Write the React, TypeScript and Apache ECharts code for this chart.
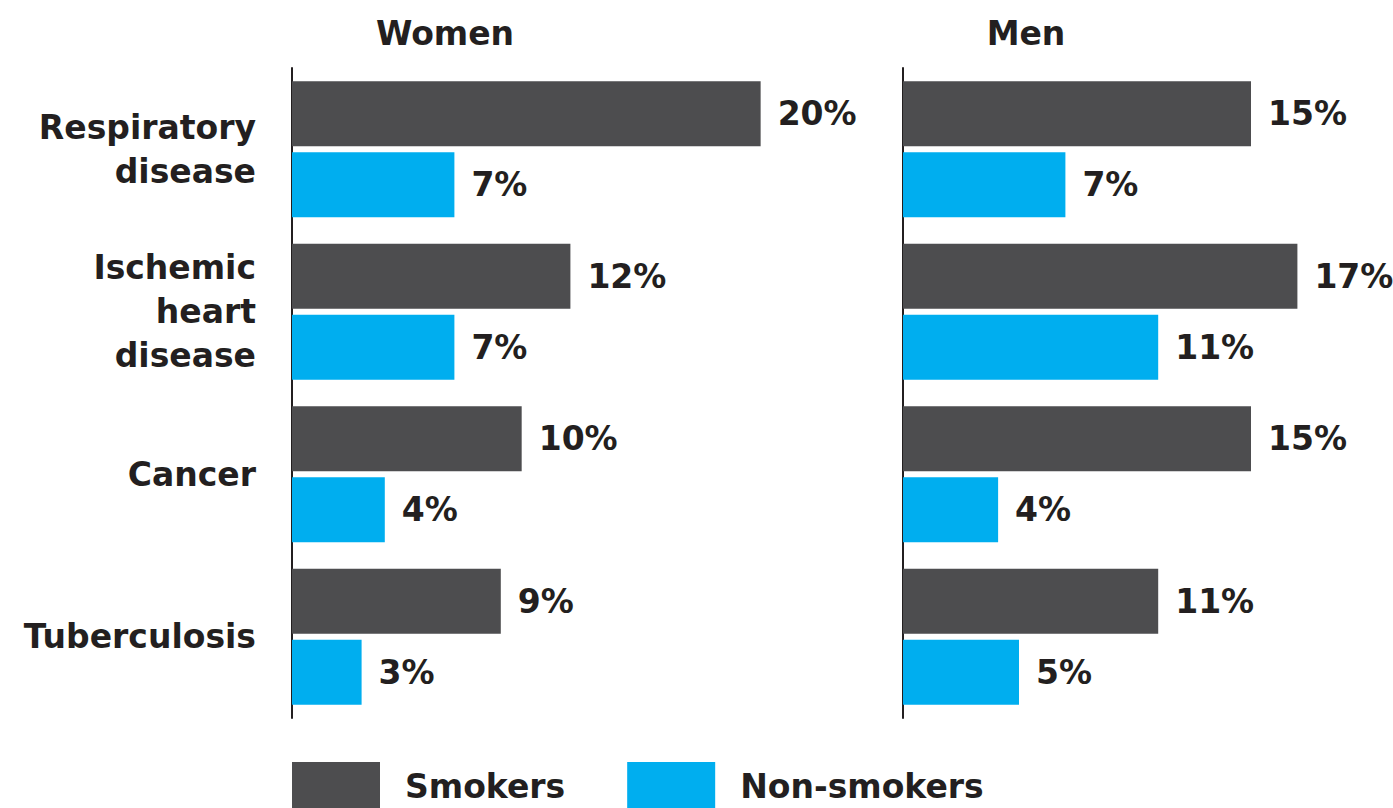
import React, { useEffect, useRef } from "react";
import * as echarts from "echarts";

const categories = ["Respiratory\ndisease", "Ischemic\nheart\ndisease", "Cancer", "Tuberculosis"];
const womenSmokers = [20.2, 12.0, 9.9, 9.0];
const womenNonSmokers = [7.0, 7.0, 4.0, 3.0];
const menSmokers = [15.0, 17.0, 15.0, 11.0];
const menNonSmokers = [7.0, 11.0, 4.1, 5.0];
const panelTitles = ["Women", "Men"];
const seriesNames = ["Smokers", "Non-smokers"];

const DARK = "#4d4d4f";
const BLUE = "#00aeef";
const TEXT = "#231f20";
const FONT = "DejaVu Sans";

export default function App() {
  const ref = useRef<HTMLDivElement>(null);
  useEffect(() => {
    document.body.style.margin = "0";
    const chart = echarts.init(ref.current!, null, { renderer: "svg" });
    const pxPerUnit = 23.2;
    const womenMax = 25;
    const menMax = 20;
    const labelCfg = {
      show: true,
      position: "right",
      distance: 17,
      fontFamily: FONT,
      fontSize: 33,
      fontWeight: "bold",
      color: TEXT,
      formatter: (p: any) => Math.round(p.value) + "%",
    };
    const barBase = (name: string, color: string, idx: number, data: number[]) => ({
      type: "bar",
      name,
      xAxisIndex: idx,
      yAxisIndex: idx,
      data,
      barWidth: 65,
      barGap: "9%",
      itemStyle: { color },
      label: labelCfg,
    });
    chart.setOption({
      animation: false,
      title: [
        {
          text: panelTitles[0],
          left: 440,
          top: 12,
          textAlign: "center",
          textStyle: { fontFamily: FONT, fontSize: 33, fontWeight: "bold", color: TEXT },
        },
        {
          text: panelTitles[1],
          left: 1021,
          top: 12,
          textAlign: "center",
          textStyle: { fontFamily: FONT, fontSize: 33, fontWeight: "bold", color: TEXT },
        },
      ],
      legend: {
        data: seriesNames,
        left: 292,
        top: 762,
        padding: 0,
        itemWidth: 88,
        itemHeight: 48,
        itemGap: 62,
        icon: "rect",
        selectedMode: false,
        textStyle: {
          fontFamily: FONT,
          fontSize: 33,
          lineHeight: 34,
          fontWeight: "bold",
          color: TEXT,
          padding: [0, 0, 0, 20],
        },
      },
      grid: [
        { left: 292, top: 68, width: womenMax * pxPerUnit, height: 650 },
        { left: 903, top: 68, width: menMax * pxPerUnit, height: 650 },
      ],
      xAxis: [
        { type: "value", gridIndex: 0, min: 0, max: womenMax, show: false },
        { type: "value", gridIndex: 1, min: 0, max: menMax, show: false },
      ],
      yAxis: [
        {
          type: "category",
          gridIndex: 0,
          data: categories,
          inverse: true,
          axisLine: { show: true, lineStyle: { color: TEXT, width: 2 } },
          axisTick: { show: false },
          axisLabel: {
            margin: 36,
            fontFamily: FONT,
            fontSize: 33,
            fontWeight: "bold",
            color: TEXT,
            lineHeight: 44,
            align: "right",
          },
        },
        {
          type: "category",
          gridIndex: 1,
          data: categories,
          inverse: true,
          axisLine: { show: true, lineStyle: { color: TEXT, width: 2 } },
          axisTick: { show: false },
          axisLabel: { show: false },
        },
      ],
      series: [
        barBase(seriesNames[0], DARK, 0, womenSmokers),
        barBase(seriesNames[1], BLUE, 0, womenNonSmokers),
        barBase(seriesNames[0], DARK, 1, menSmokers),
        barBase(seriesNames[1], BLUE, 1, menNonSmokers),
      ],
    });
    return () => chart.dispose();
  }, []);
  return <div ref={ref} style={{ width: 1393, height: 808 }} />;
}
